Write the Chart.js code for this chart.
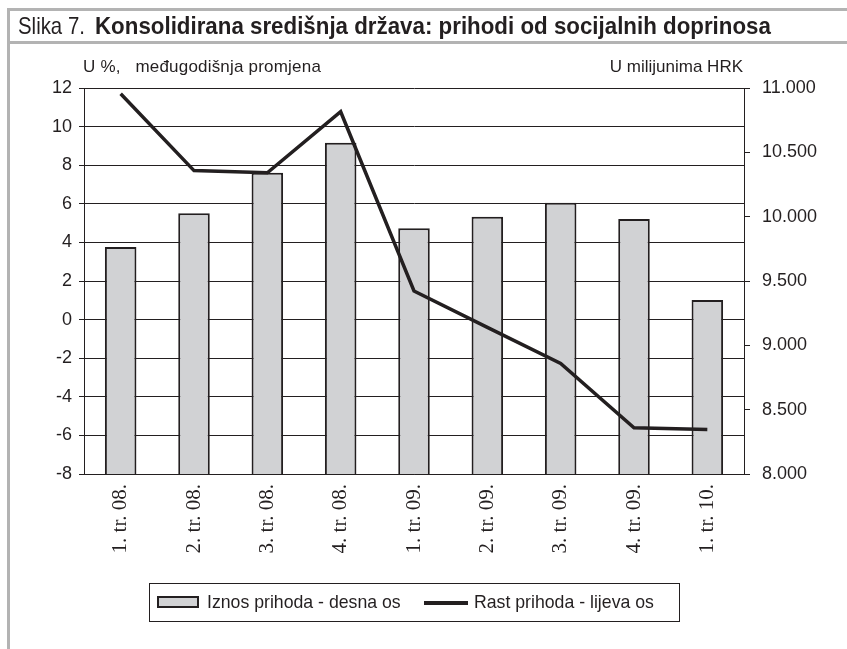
<!DOCTYPE html>
<html>
<head>
<meta charset="utf-8">
<script src="https://cdn.jsdelivr.net/npm/chart.js@4"></script>
<style>
  body { margin: 0; background: #fff; }
  #wrap { position: relative; width: 847px; height: 649px; overflow: hidden; font-family: "Liberation Sans", Arial, sans-serif; color: #231f20; }
  #chart { position: absolute; left: 0; top: 0; }
  .frame { position: absolute; background: #b3b3b3; }
  .ttl { position: absolute; top: 12px; font-size: 24px; white-space: nowrap; transform-origin: 0 0; }
  .unit { position: absolute; top: 57px; font-size: 17px; white-space: nowrap; }
  #legend { position: absolute; left: 149px; top: 583px; width: 531px; height: 39px; border: 1px solid #231f20; box-sizing: border-box; font-size: 17.7px; }
  #legend .sw1 { position: absolute; left: 7px; top: 12px; width: 42px; height: 12px; background: #d1d2d4; border: 2px solid #231f20; box-sizing: border-box; }
  #legend .sw2 { position: absolute; left: 274px; top: 17px; width: 44px; height: 4px; background: #231f20; }
  #legend span { position: absolute; top: 8px; white-space: nowrap; }
</style>
</head>
<body>
<div id="wrap">
  <canvas id="chart" width="847" height="649"></canvas>
  <div class="frame" style="left:7px; top:8px; width:840px; height:3px;"></div>
  <div class="frame" style="left:7px; top:41px; width:840px; height:3px;"></div>
  <div class="frame" style="left:7px; top:8px; width:3px; height:641px;"></div>
  <div class="ttl" style="left:18px; transform: scaleX(0.85);">Slika 7.</div>
  <div class="ttl" style="left:95px; font-weight:bold; transform: scaleX(0.93);">Konsolidirana središnja država: prihodi od socijalnih doprinosa</div>
  <div class="unit" style="left:83px; letter-spacing:0.2px;">U %,&nbsp;&nbsp; međugodišnja promjena</div>
  <div class="unit" style="right:104px;">U milijunima HRK</div>
  <div id="legend">
    <div class="sw1"></div><span style="left:57px;">Iznos prihoda - desna os</span>
    <div class="sw2"></div><span style="left:324px;">Rast prihoda - lijeva os</span>
  </div>
</div>
<script>
// quarters
const labels = ['1. tr. 08.', '2. tr. 08.', '3. tr. 08.', '4. tr. 08.', '1. tr. 09.', '2. tr. 09.', '3. tr. 09.', '4. tr. 09.', '1. tr. 10.'];
// revenue amount, million HRK (right axis)
const iznosPrihoda = [9765, 10026, 10342, 10575, 9910, 10000, 10109, 9982, 9352];
// year-on-year growth, % (left axis)
const rastPrihoda = [11.7, 7.72, 7.61, 10.77, 1.48, -0.4, -2.27, -5.61, -5.7];

const ink = '#231f20';

function fmtThousands(v) {
    return String(v).replace(/\B(?=(\d{3})+(?!\d))/g, '.');
}

new Chart(document.getElementById('chart'), {
    type: 'bar',
    data: {
        labels: labels,
        datasets: [
            {
                type: 'line',
                data: rastPrihoda,
                yAxisID: 'y',
                borderColor: ink,
                borderWidth: 3.5,
                pointRadius: 0,
                tension: 0,
                order: 0
            },
            {
                type: 'bar',
                data: iznosPrihoda,
                yAxisID: 'y1',
                backgroundColor: '#d1d2d4',
                borderColor: ink,
                borderWidth: 2,
                categoryPercentage: 1,
                barPercentage: 0.43,
                order: 1
            }
        ]
    },
    options: {
        responsive: false,
        devicePixelRatio: 1,
        animation: false,
        layout: { padding: { top: 88, left: 0, right: 0, bottom: 0 } },
        plugins: {
            legend: { display: false },
            tooltip: { enabled: false }
        },
        scales: {
            x: {
                grid: { display: false },
                border: { display: true, color: ink, width: 1 },
                ticks: {
                    color: ink,
                    font: { family: '"Liberation Serif", serif', size: 21 },
                    minRotation: 90,
                    maxRotation: 90,
                    padding: 2
                },
                afterFit: function(scale) { scale.height = 175; }
            },
            y: {
                position: 'left',
                min: -8,
                max: 12,
                grid: { color: ink, lineWidth: 1, tickLength: 5 },
                border: { display: true, color: ink, width: 1 },
                ticks: {
                    stepSize: 2,
                    color: ink,
                    padding: 7,
                    font: { family: '"Liberation Sans", Arial, sans-serif', size: 18 }
                },
                afterFit: function(scale) { scale.width = 84; }
            },
            y1: {
                position: 'right',
                min: 8000,
                max: 11000,
                grid: { drawOnChartArea: false, color: ink, tickLength: 6 },
                border: { display: true, color: ink, width: 1 },
                ticks: {
                    stepSize: 500,
                    color: ink,
                    padding: 12,
                    font: { family: '"Liberation Sans", Arial, sans-serif', size: 18 },
                    callback: function(v) { return fmtThousands(v); }
                },
                afterFit: function(scale) { scale.width = 103; }
            }
        }
    }
});
</script>
</body>
</html>
